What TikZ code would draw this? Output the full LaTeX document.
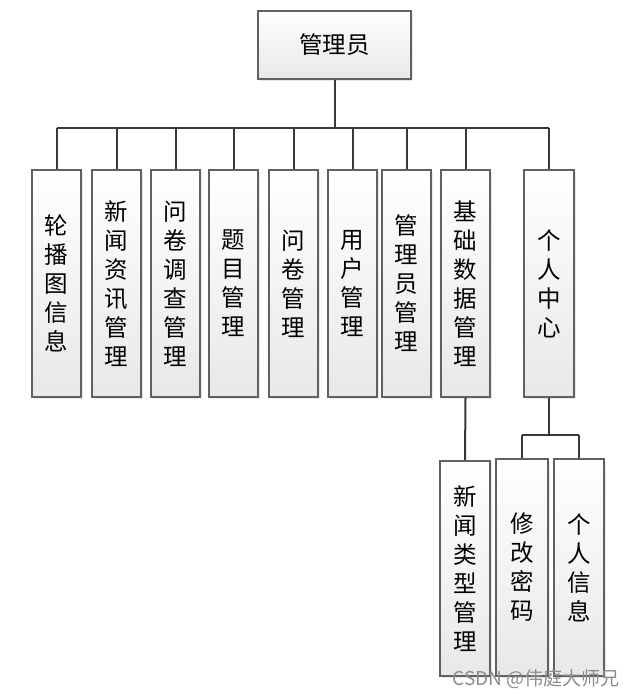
\documentclass[tikz,border=0pt]{standalone}
\usepackage{fontspec}
\newfontfamily\cjk{Noto Sans CJK SC}
\usetikzlibrary{shadows,calc}
\tikzset{
  box/.style={draw=black!62, line width=1.2pt, top color=white, bottom color=black!9,
    drop shadow={shadow xshift=2pt, shadow yshift=-2pt, fill=black!15, opacity=0.6},
    align=center, inner sep=0pt, font=\cjk\fontsize{23.5}{29}\selectfont},
  link/.style={draw=black!78, line width=2pt}
}
\begin{document}
\begin{tikzpicture}[x=1pt,y=-1pt]
\useasboundingbox[fill=white] (0,0) rectangle (636,698);
\node[box, minimum width=153pt, minimum height=68pt] (top) at (334.5,45) {管理员};
\node[box, minimum width=49pt, minimum height=227pt] (b1) at (56.5,283.5) {轮\\播\\图\\信\\息};
\node[box, minimum width=49pt, minimum height=227pt] (b2) at (116.5,283.5) {新\\闻\\资\\讯\\管\\理};
\node[box, minimum width=49pt, minimum height=227pt] (b3) at (175.5,283.5) {问\\卷\\调\\查\\管\\理};
\node[box, minimum width=49pt, minimum height=227pt] (b4) at (233.5,283.5) {题\\目\\管\\理};
\node[box, minimum width=49pt, minimum height=227pt] (b5) at (293.5,283.5) {问\\卷\\管\\理};
\node[box, minimum width=49pt, minimum height=227pt] (b6) at (352.5,283.5) {用\\户\\管\\理};
\node[box, minimum width=49pt, minimum height=227pt] (b7) at (406.5,283.5) {管\\理\\员\\管\\理};
\node[box, minimum width=49pt, minimum height=227pt] (b8) at (465.5,283.5) {基\\础\\数\\据\\管\\理};
\node[box, minimum width=50pt, minimum height=227pt] (b9) at (549,283.5) {个\\人\\中\\心};
\node[box, minimum width=50pt, minimum height=215pt] (b10) at (465,568.5) {新\\闻\\类\\型\\管\\理};
\node[box, minimum width=52pt, minimum height=217pt] (b11) at (522,567.5) {修\\改\\密\\码};
\node[box, minimum width=50pt, minimum height=217pt] (b12) at (579,567.5) {个\\人\\信\\息};
\coordinate (bus) at (0,128);
\coordinate (bus2) at (0,435);
\draw[link] (top.south) -- (top.south |- bus);
\draw[link] (b1.north |- bus) -- (b9.north |- bus);
\foreach \b in {b1,b2,b3,b4,b5,b6,b7,b8,b9}{
  \draw[link] (\b.north |- bus) -- (\b.north);
}
\draw[link] (b8.south) -- (b10.north);
\draw[link] (b9.south) -- (b9.south |- bus2);
\draw[link] (b11.north |- bus2) -- (b12.north |- bus2);
\draw[link] (b11.north |- bus2) -- (b11.north);
\draw[link] (b12.north |- bus2) -- (b12.north);
\node[font=\cjk\fontsize{19}{22}\selectfont, text=black!45, anchor=east, inner sep=0pt] (wm) at (620,679) {CSDN @伟庭大师兄};
\end{tikzpicture}
\end{document}
